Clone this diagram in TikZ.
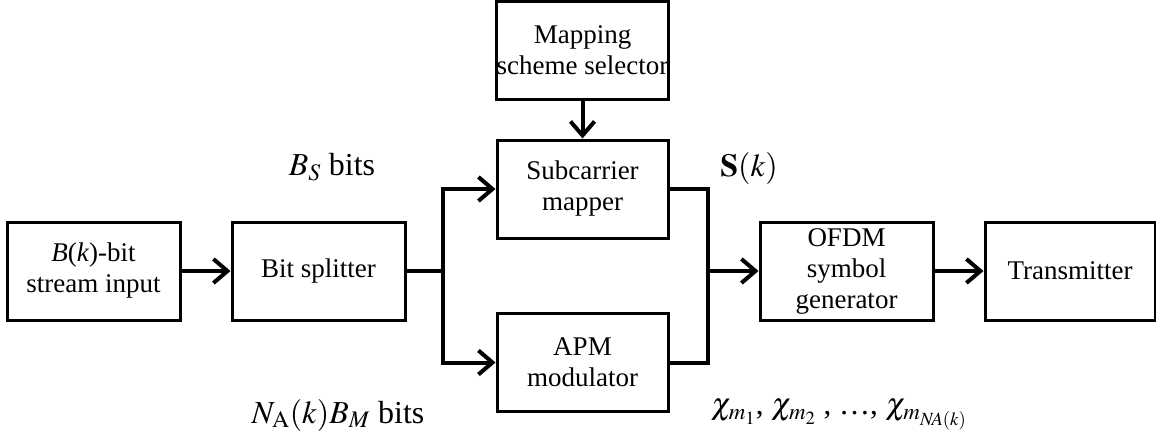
\documentclass[tikz,border=0pt]{standalone}
\usepackage{mathptmx}
\usepackage{fontspec}
\setmainfont{Liberation Serif}
\usetikzlibrary{arrows.meta}
\tikzset{
  blk/.style={draw, line width=3pt, inner sep=0pt, align=center,
    minimum width=#1, minimum height=98pt, font=\fontsize{27}{31}\selectfont},
  blk/.default=173pt,
  conn/.style={line width=4pt, line join=miter},
  arr/.style={conn, -{Straight Barb[length=14pt, width=24pt, line width=4pt]}},
  lbl/.style={inner sep=0pt, font=\fontsize{32}{38}\selectfont}
}
\begin{document}
\begin{tikzpicture}[x=1pt, y=-1pt]
\useasboundingbox (0,0) rectangle (1156,436);
\node[blk] (in) at (93.5,271) {\textit{B}(\textit{k})-bit\\stream input};
\node[blk] (split) at (318.5,271) {Bit splitter};
\node[blk=171pt, minimum height=97pt] (map) at (582.5,50.5) {Mapping\\scheme selector};
\node[blk=171pt] (sub) at (582.5,189) {Subcarrier\\mapper};
\node[blk=171pt] (apm) at (582.5,362.5) {APM\\modulator};
\node[blk] (ofdm) at (846.5,271) {OFDM\\symbol\\generator};
\node[blk=170pt] (tx) at (1070,271) {Transmitter};
\coordinate (fork) at (443,271);
\coordinate (join) at (708,271);
\draw[arr] (in) -- (split);
\draw[conn] (split) -- (fork);
\draw[arr] (fork) |- (sub.west);
\draw[arr] (fork) |- (apm.west);
\draw[arr] (map) -- (sub);
\draw[conn] (sub.east) -| (join);
\draw[conn] (apm.east) -| (join);
\draw[arr] (join) -- (ofdm);
\draw[arr] (ofdm) -- (tx);
\node[lbl] (bs) at (332,167) {$B_S$ bits};
\node[lbl] (na) at (338,415) {$N_{\mathrm{A}}(k)B_M$ bits};
\node[lbl] (sk) at (749,168) {$\mathbf{S}(k)$};
\node[lbl, font=\fontsize{31}{36}\selectfont] (chi) at (839,415) {$\chi_{m_1}$, $\chi_{m_2}$ , \dots, $\chi_{m_{N\!A(k)}}$};
\end{tikzpicture}
\end{document}
